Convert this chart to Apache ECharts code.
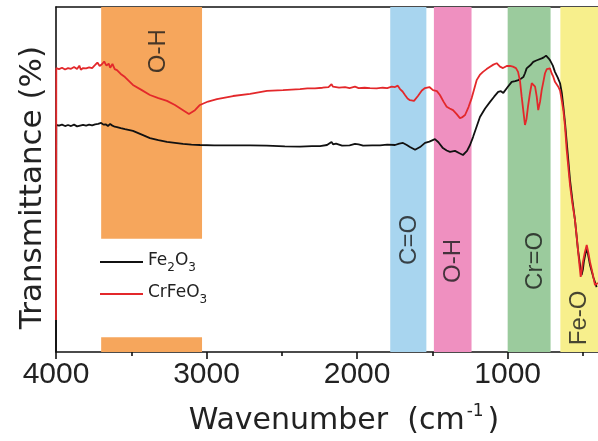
<!DOCTYPE html>
<html>
<head>
<meta charset="utf-8">
<script src="https://cdn.jsdelivr.net/npm/echarts@6/dist/echarts.min.js"></script>
<style>html,body{margin:0;padding:0;background:#fff}#c{width:598px;height:441px}</style>
</head>
<body>
<div id="c"></div>
<script>
// ---- data ----
const xTickLabels = [4000, 3000, 2000, 1000];
const xMinorTicks = [3500, 2500, 1500, 500];

const fe2o3Wn = [4000, 3998, 3980, 3960, 3940, 3920, 3900, 3880, 3860, 3840, 3820, 3800, 3780, 3760, 3740, 3720, 3700, 3685, 3670, 3655, 3640, 3625, 3610, 3595, 3570, 3542, 3489, 3430, 3376, 3320, 3263, 3210, 3156, 3100, 3044, 2950, 2850, 2711, 2600, 2480, 2379, 2300, 2246, 2200, 2170, 2160, 2140, 2100, 2050, 2014, 1990, 1960, 1900, 1848, 1800, 1748, 1720, 1695, 1670, 1649, 1615, 1582, 1549, 1520, 1483, 1460, 1430, 1405, 1383, 1350, 1320, 1297, 1270, 1250, 1230, 1184, 1150, 1117, 1090, 1063, 1045, 1029, 1000, 973, 950, 929, 910, 896, 885, 874, 850, 830, 810, 797, 774, 760, 745, 730, 719, 700, 686, 668, 652, 640, 630, 618, 608, 597, 586, 570, 553, 543, 533, 520, 509, 500, 494, 485, 475, 465, 453, 430, 409];
const fe2o3T  = [0, 65.8, 65.6, 65.9, 65.5, 65.8, 65.5, 65.9, 65.4, 65.6, 65.8, 65.6, 65.9, 65.7, 66.0, 66.1, 66.4, 65.9, 66.0, 65.5, 66.1, 65.6, 65.3, 65.2, 64.9, 64.6, 64.1, 63.0, 62.0, 61.4, 60.9, 60.6, 60.3, 60.1, 60.0, 59.9, 59.9, 59.9, 59.8, 59.6, 59.5, 59.7, 59.7, 60.0, 60.9, 60.2, 60.4, 59.8, 59.9, 60.3, 60.2, 59.8, 59.9, 59.9, 60.1, 60.0, 60.4, 60.6, 60.0, 59.4, 58.6, 59.4, 60.6, 61.0, 61.7, 60.8, 59.1, 58.4, 58.0, 58.3, 57.6, 57.1, 58.3, 60.0, 62.3, 68.1, 70.6, 72.5, 74.0, 75.4, 75.6, 75.1, 76.8, 78.3, 78.5, 78.8, 79.3, 79.7, 80.8, 82.2, 83.1, 84.1, 84.5, 84.6, 85.1, 85.4, 85.9, 85.2, 84.6, 83.0, 81.2, 79.6, 77.9, 75.0, 71.1, 66.0, 60.9, 55.5, 49.9, 44.0, 38.3, 34.0, 29.6, 25.5, 22.3, 24.0, 26.1, 28.2, 30.1, 28.0, 25.2, 21.5, 18.8];

const crfeo3Wn = [4000, 3998, 3980, 3960, 3940, 3920, 3900, 3880, 3860, 3845, 3835, 3820, 3800, 3780, 3760, 3740, 3725, 3710, 3695, 3680, 3665, 3650, 3640, 3625, 3610, 3595, 3570, 3542, 3489, 3430, 3376, 3320, 3263, 3210, 3156, 3117, 3077, 3044, 2990, 2931, 2824, 2711, 2599, 2492, 2379, 2330, 2280, 2230, 2190, 2170, 2160, 2150, 2120, 2080, 2050, 2014, 1990, 1950, 1914, 1870, 1830, 1800, 1770, 1748, 1730, 1715, 1698, 1682, 1665, 1649, 1622, 1596, 1570, 1549, 1520, 1496, 1470, 1450, 1425, 1405, 1385, 1363, 1340, 1317, 1300, 1283, 1260, 1239, 1206, 1185, 1164, 1140, 1117, 1095, 1073, 1060, 1051, 1031, 1018, 1006, 985, 965, 945, 931, 918, 907, 895, 885, 875, 865, 852, 840, 828, 818, 807, 797, 785, 774, 762, 752, 740, 730, 719, 708, 697, 686, 675, 664, 652, 641, 630, 619, 608, 597, 586, 570, 553, 543, 533, 524, 515, 508, 500, 488, 475, 465, 453, 437, 420, 400];
const crfeo3T  = [9.3, 82.3, 82.0, 82.4, 81.9, 82.3, 82.1, 82.6, 82.0, 83.0, 81.8, 82.3, 82.2, 82.5, 82.3, 83.2, 83.9, 82.9, 83.4, 84.2, 83.0, 83.6, 82.4, 83.5, 82.0, 81.7, 80.6, 79.7, 77.4, 75.9, 74.5, 73.6, 72.8, 71.6, 70.1, 69.0, 70.1, 71.6, 72.6, 73.3, 74.2, 74.8, 75.7, 75.9, 76.2, 76.4, 76.4, 76.6, 76.8, 77.6, 76.9, 77.3, 76.6, 76.8, 76.5, 76.9, 76.5, 76.6, 76.5, 76.4, 76.6, 76.5, 76.9, 76.8, 77.2, 76.2, 75.5, 74.5, 73.5, 73.0, 72.8, 74.2, 75.8, 76.5, 76.8, 75.9, 75.6, 74.5, 72.5, 71.1, 70.6, 70.1, 69.0, 67.8, 68.1, 68.7, 71.0, 73.6, 78.8, 80.3, 81.2, 82.0, 82.7, 83.3, 83.7, 83.2, 82.7, 82.3, 82.5, 82.9, 82.9, 82.7, 82.3, 81.2, 78.5, 74.0, 69.5, 65.8, 67.5, 71.1, 75.0, 77.9, 77.5, 76.9, 74.0, 70.1, 72.5, 75.9, 78.5, 80.8, 82.0, 82.5, 82.2, 80.8, 79.8, 78.3, 77.6, 76.9, 75.8, 73.0, 70.0, 65.3, 58.6, 53.5, 48.4, 43.0, 38.3, 34.0, 29.6, 25.5, 21.8, 23.5, 26.1, 28.8, 31.0, 29.0, 26.1, 23.0, 19.4, 20.0];

const bandNames = ['O-H', 'C=O', 'O-H', 'Cr=O', 'Fe-O'];
const bandFrom  = [3700, 1780, 1490, 1000, 650];
const bandTo    = [3030, 1540, 1240, 715, 400];
const bandColors = ['#F6A65C', '#A8D5EF', '#EF90C0', '#9BCB9D', '#F7EF8C'];
// the O-H (orange) band is interrupted where the legend sits
const orangeGapLow = 4.3, orangeGapHigh = 32.8;
// label anchor points (wavenumber, transmittance)
const bandLabelWn = [3322, 1655, 1363, 818, 526];
const bandLabelT  = [87.2, 32.5, 26.4, 26.4, 9.9];

const zip = (a, b) => a.map((v, i) => [v, b[i]]);

const areas = [];
bandNames.forEach((n, i) => {
  const st = { color: bandColors[i], opacity: 1 };
  if (i === 0) {
    areas.push([{ xAxis: bandFrom[i], yAxis: orangeGapHigh, itemStyle: st }, { xAxis: bandTo[i], yAxis: 100 }]);
    areas.push([{ xAxis: bandFrom[i], yAxis: 0, itemStyle: st }, { xAxis: bandTo[i], yAxis: orangeGapLow }]);
  } else {
    areas.push([{ xAxis: bandFrom[i], yAxis: 0, itemStyle: st }, { xAxis: bandTo[i], yAxis: 100 }]);
  }
});

const chart = echarts.init(document.getElementById('c'), null, { renderer: 'canvas' });
const axisFont = 'DejaVu Sans';
chart.setOption({
  animation: false,
  backgroundColor: '#fff',
  grid: { left: 56, right: 0, top: 7, bottom: 89 },
  legend: {
    left: 100, top: 252, orient: 'vertical', itemWidth: 43, itemHeight: 2, itemGap: 10, padding: 0,
    icon: 'rect',
    selectedMode: false,
    data: ['Fe2O3', 'CrFeO3'],
    formatter: n => n === 'Fe2O3' ? '{n|Fe}{s|2}{n|O}{s|3}' : '{n|CrFeO}{s|3}',
    textStyle: {
      color: '#222',
      rich: {
        n: { fontFamily: axisFont, fontSize: 17, lineHeight: 20, verticalAlign: 'top', color: '#222' },
        s: { fontFamily: axisFont, fontSize: 12, lineHeight: 12, padding: [10, 0, 0, 0], verticalAlign: 'top', color: '#222' }
      }
    }
  },
  xAxis: [{
    type: 'value', inverse: true, min: 400, max: 4000, position: 'bottom',
    splitLine: { show: false },
    axisLine: { show: true, onZero: false, lineStyle: { color: '#111', width: 1.6 } },
    axisTick: { show: true, customValues: xTickLabels, length: 7, lineStyle: { color: '#111', width: 1.6 } },
    axisLabel: { customValues: xTickLabels, formatter: v => String(v), fontFamily: 'Liberation Sans', fontSize: 30, color: '#222', margin: 8 },
    name: '{a|Wavenumber  (cm}{p|-1}{a|)}', nameLocation: 'middle', nameGap: 50,
    nameTextStyle: {
      padding: [0, 0, 0, 34],
      rich: {
        a: { fontFamily: axisFont, fontSize: 30, lineHeight: 34, padding: [4, 0, 0, 0], verticalAlign: 'top', color: '#222' },
        p: { fontFamily: axisFont, fontSize: 17, lineHeight: 17, padding: [1, 4, 0, 2], verticalAlign: 'top', color: '#222' }
      }
    }
  }, {
    type: 'value', inverse: true, min: 400, max: 4000, position: 'top',
    splitLine: { show: false },
    axisLine: { show: true, onZero: false, lineStyle: { color: '#111', width: 1.6 } },
    axisTick: { show: false }, axisLabel: { show: false }
  }, {
    type: 'value', inverse: true, min: 400, max: 4000, position: 'bottom',
    splitLine: { show: false },
    axisLine: { show: false },
    axisTick: { show: true, customValues: xMinorTicks, length: 4, lineStyle: { color: '#111', width: 1.6 } },
    axisLabel: { show: false }
  }],
  yAxis: {
    type: 'value', min: 0, max: 100,
    splitLine: { show: false },
    axisLine: { show: true, lineStyle: { color: '#111', width: 1.6 } },
    axisTick: { show: false }, axisLabel: { show: false },
    name: 'Transmittance (%)', nameLocation: 'middle', nameGap: 8,
    nameTextStyle: { fontFamily: axisFont, fontSize: 31, color: '#222', padding: [0, 16, 0, 0] }
  },
  series: [
    {
      type: 'line', name: 'bands', data: [], z: 1, silent: true,
      markArea: { silent: true, data: areas }
    },
    {
      type: 'line', name: 'Fe2O3', data: zip(fe2o3Wn, fe2o3T), symbol: 'none', z: 3,
      lineStyle: { color: '#111', width: 1.8 }, itemStyle: { color: '#111' }
    },
    {
      type: 'line', name: 'CrFeO3', data: zip(crfeo3Wn, crfeo3T), symbol: 'none', z: 4,
      lineStyle: { color: '#E3282B', width: 1.8 }, itemStyle: { color: '#E3282B' }
    },
    {
      type: 'scatter', name: 'labels', symbolSize: 0, z: 5, silent: true,
      data: bandNames.map((n, i) => ({ name: n, value: [bandLabelWn[i], bandLabelT[i]] })),
      label: {
        show: true, position: 'inside', rotate: 90, formatter: p => p.name,
        fontFamily: 'Liberation Sans', fontSize: 24, color: '#1a1a1a'
      }
    }
  ]
});
</script>
</body>
</html>
